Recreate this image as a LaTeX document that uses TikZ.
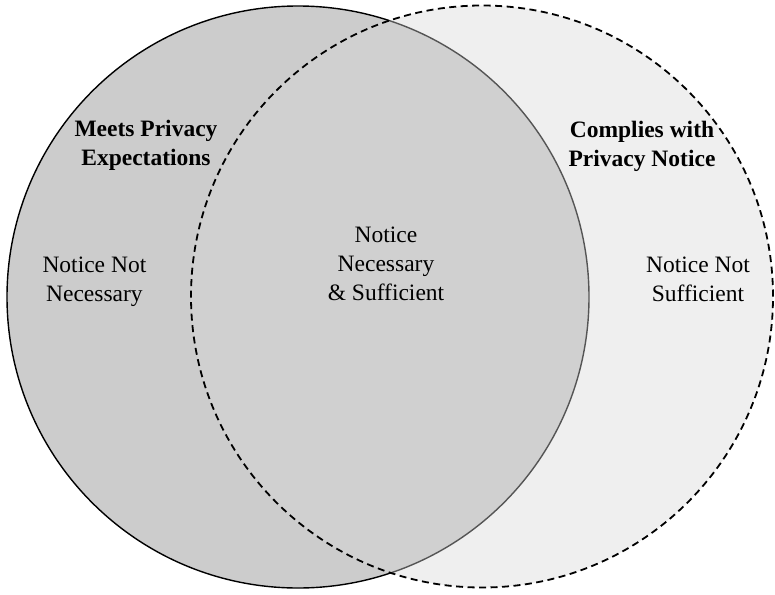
\documentclass[tikz,border=0pt]{standalone}
\usepackage{fontspec}
\setmainfont{Liberation Serif}
\begin{document}
\begin{tikzpicture}[x=1pt,y=-1pt,
  lbl/.style={inner sep=0pt,anchor=base,font=\fontsize{23.5}{29}\selectfont},
  ttl/.style={lbl,font=\fontsize{23.5}{29}\selectfont\bfseries},
  leftset/.style={circle,draw=black,line width=1.4pt,fill=leftgray,minimum size=582pt,inner sep=0pt},
  rightset/.style={circle,draw=black,line width=1.8pt,dash pattern=on 7pt off 4.5pt,fill=rightgray,fill opacity=0.4,draw opacity=1,minimum size=582pt,inner sep=0pt}]
\definecolor{leftgray}{RGB}{204,204,204}
\definecolor{rightgray}{RGB}{214,214,214}
\useasboundingbox (0,0) rectangle (775,594);
\node[leftset] (L) at (298,297) {};
\node[rightset] (R) at (482,296.5) {};
\node[ttl] (meets) at (146,136.7) {\begin{tabular}[t]{@{}c@{}}Meets Privacy\\Expectations\end{tabular}};
\node[ttl] (complies) at (642,137.3) {\begin{tabular}[t]{@{}c@{}}Complies with\\Privacy Notice\end{tabular}};
\node[lbl] (nn) at (94.4,272.3) {\begin{tabular}[t]{@{}c@{}}Notice Not\\Necessary\end{tabular}};
\node[lbl] (ns) at (386,242.3) {\begin{tabular}[t]{@{}c@{}}Notice\\Necessary\\\& Sufficient\end{tabular}};
\node[lbl] (nsuf) at (698,272.5) {\begin{tabular}[t]{@{}c@{}}Notice Not\\Sufficient\end{tabular}};
\end{tikzpicture}
\end{document}
